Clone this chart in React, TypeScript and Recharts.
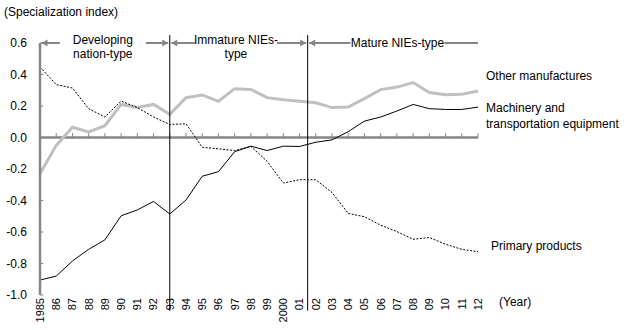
import { LineChart, Line, XAxis, YAxis, ReferenceLine } from "recharts";

const years = [
  1985, 1986, 1987, 1988, 1989, 1990, 1991, 1992, 1993, 1994, 1995, 1996, 1997, 1998,
  1999, 2000, 2001, 2002, 2003, 2004, 2005, 2006, 2007, 2008, 2009, 2010, 2011, 2012,
];
const yearLabels = [
  "1985", "86", "87", "88", "89", "90", "91", "92", "93", "94", "95", "96", "97", "98",
  "99", "2000", "01", "02", "03", "04", "05", "06", "07", "08", "09", "10", "11", "12",
];
const otherManufactures = [
  -0.23, -0.05, 0.065, 0.035, 0.075, 0.21, 0.19, 0.21, 0.147, 0.253, 0.27, 0.23, 0.31, 0.305,
  0.253, 0.24, 0.23, 0.22, 0.19, 0.193, 0.247, 0.304, 0.32, 0.349, 0.285, 0.272, 0.274, 0.295,
];
const machinery = [
  -0.905, -0.88, -0.784, -0.71, -0.65, -0.497, -0.46, -0.406, -0.486, -0.397, -0.246, -0.217, -0.09, -0.055,
  -0.083, -0.055, -0.057, -0.03, -0.015, 0.037, 0.104, 0.13, 0.168, 0.21, 0.183, 0.178, 0.178, 0.193,
];
const primaryProducts = [
  0.448, 0.336, 0.314, 0.183, 0.13, 0.231, 0.19, 0.13, 0.083, 0.087, -0.062, -0.072, -0.083, -0.057,
  -0.151, -0.289, -0.268, -0.268, -0.349, -0.482, -0.503, -0.557, -0.597, -0.646, -0.635, -0.678, -0.71, -0.725,
];
const yTicks = [-1, -0.8, -0.6, -0.4, -0.2, 0, 0.2, 0.4, 0.6];

// stage bands drawn along the top of the plot
const phases = [
  { lines: ["Developing", "nation-type"], from: 1985, to: 1993, textAt: 0.484, gap: 43, arrowEnd: true },
  { lines: ["Immature NIEs-", "type"], from: 1993, to: 2001.5, textAt: 0.48, gap: 41, arrowEnd: true },
  { lines: ["Mature NIEs-type"], from: 2001.5, to: 2012, textAt: 0.527, gap: 47, arrowEnd: false },
];
const phaseBreaks = [1993, 2001.5];

const rows = years.map((year, i) => ({
  year,
  other: otherManufactures[i],
  machinery: machinery[i],
  primary: primaryProducts[i],
}));

const FONT = "'Liberation Sans', Arial, sans-serif";
const AXIS = "#868686";

function YearTick(props: any) {
  const { x, y, payload } = props;
  const label = yearLabels[years.indexOf(payload.value)];
  return (
    <text
      x={x}
      y={y}
      transform={`rotate(-90 ${x} ${y})`}
      textAnchor="end"
      dy="0.35em"
      fontSize={11}
      fontFamily={FONT}
      fill="#000"
    >
      {label}
    </text>
  );
}

function phaseShape(phase: (typeof phases)[number]) {
  return (props: any) => {
    const { x1, x2, y1 } = props;
    const left = x1 + 1.5;
    const right = phase.arrowEnd ? x2 - 1.5 : x2;
    const cx = x1 + (x2 - x1) * phase.textAt;
    const y = y1;
    const two = phase.lines.length > 1;
    return (
      <g>
        <line x1={left} y1={y} x2={cx - phase.gap} y2={y} stroke={AXIS} strokeWidth={2} />
        <line x1={cx + phase.gap} y1={y} x2={right} y2={y} stroke={AXIS} strokeWidth={2} />
        <polygon points={`${left},${y} ${left + 6},${y - 3.5} ${left + 6},${y + 3.5}`} fill={AXIS} />
        {phase.arrowEnd && (
          <polygon points={`${right},${y} ${right - 6},${y - 3.5} ${right - 6},${y + 3.5}`} fill={AXIS} />
        )}
        {phase.lines.map((t, i) => (
          <text
            key={t}
            x={cx}
            y={two ? y - 3 + i * 13.5 : y}
            dy="0.35em"
            textAnchor="middle"
            fontSize={12}
            fontFamily={FONT}
            fill="#000"
          >
            {t}
          </text>
        ))}
      </g>
    );
  };
}

const labelStyle: React.CSSProperties = {
  position: "absolute",
  fontFamily: FONT,
  fontSize: 12,
  lineHeight: "14px",
  color: "#000",
  whiteSpace: "nowrap",
};

export default function App() {
  return (
    <div style={{ position: "absolute", left: 0, top: 0, width: 630, height: 330, background: "#fff" }}>
      <LineChart width={630} height={330} data={rows} margin={{ top: 43, right: 152, bottom: 0, left: 0 }}>
        <XAxis
          dataKey="year"
          type="number"
          domain={[1985, 2012]}
          ticks={years}
          interval={0}
          axisLine={false}
          tickLine={false}
          tickSize={0}
          tickMargin={3}
          height={35}
          tick={<YearTick />}
        />
        <YAxis
          type="number"
          domain={[-1, 0.6]}
          ticks={yTicks}
          interval={0}
          width={40}
          axisLine={{ stroke: AXIS, strokeWidth: 2.5 }}
          tickLine={false}
          tickSize={0}
          tickMargin={13}
          tickFormatter={(v: number) => v.toFixed(1)}
          tick={{ fill: "#000", fontSize: 12, fontFamily: FONT }}
        />
        <ReferenceLine y={0} stroke={AXIS} strokeWidth={2.5} />
        {years.map((yr) => (
          <ReferenceLine key={`xt${yr}`} segment={[{ x: yr, y: 0 }, { x: yr, y: 0.028 }]} stroke={AXIS} />
        ))}
        {yTicks.map((v) => (
          <ReferenceLine key={`yt${v}`} segment={[{ x: 1985, y: v }, { x: 1985.2, y: v }]} stroke={AXIS} />
        ))}
        <Line dataKey="other" stroke="#c0c0c0" strokeWidth={3} dot={false} isAnimationActive={false} />
        <Line dataKey="machinery" stroke="#000" strokeWidth={1} dot={false} isAnimationActive={false} />
        <Line
          dataKey="primary"
          stroke="#000"
          strokeWidth={1}
          strokeDasharray="2 1.5"
          dot={false}
          isAnimationActive={false}
        />
        {phaseBreaks.map((b) => (
          <ReferenceLine
            key={`pb${b}`}
            segment={[{ x: b, y: 0.65 }, { x: b, y: -1.1 }]}
            stroke="#000"
            strokeWidth={1}
            ifOverflow="visible"
          />
        ))}
        {phases.map((p) => (
          <ReferenceLine
            key={p.lines[0]}
            segment={[{ x: p.from, y: 0.6 }, { x: p.to, y: 0.6 }]}
            ifOverflow="visible"
            shape={phaseShape(p)}
          />
        ))}
      </LineChart>
      <div style={{ ...labelStyle, left: 4, top: 5 }}>(Specialization index)</div>
      <div style={{ ...labelStyle, left: 486, top: 69 }}>Other manufactures</div>
      <div style={{ ...labelStyle, left: 486, top: 100, lineHeight: "16px" }}>
        Machinery and
        <br />
        transportation equipment
      </div>
      <div style={{ ...labelStyle, left: 491, top: 239 }}>Primary products</div>
      <div style={{ ...labelStyle, left: 499, top: 295 }}>(Year)</div>
    </div>
  );
}
